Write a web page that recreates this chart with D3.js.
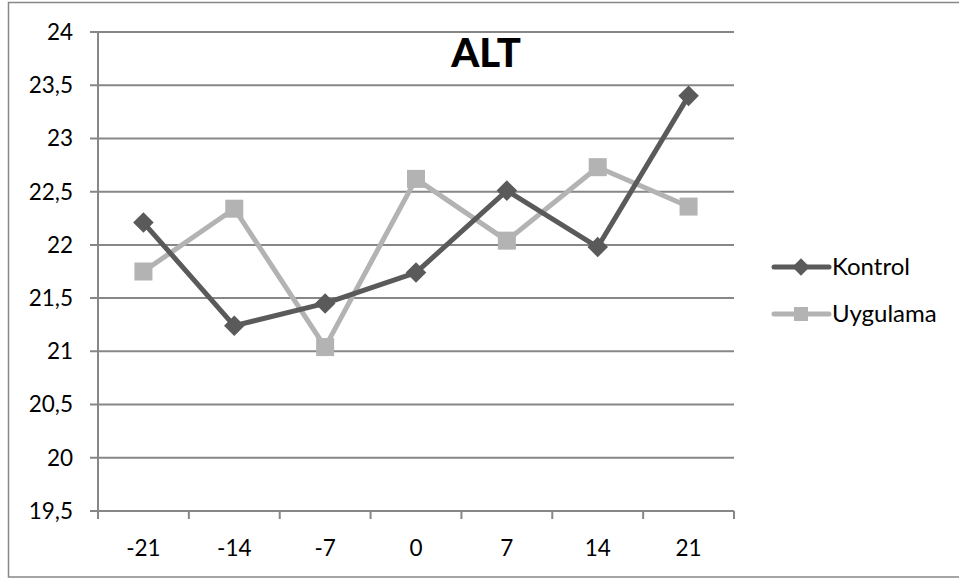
<!DOCTYPE html>
<html><head><meta charset="utf-8">
<script src="https://cdn.jsdelivr.net/npm/d3@7"></script>
<style>body{margin:0;background:#fff;} svg{display:block;}</style>
</head><body>
<svg id="c" width="959" height="579"></svg>
<script>
const categories = ["-21","-14","-7","0","7","14","21"];
const kontrol = [22.21, 21.24, 21.45, 21.74, 22.51, 21.98, 23.40];
const uygulama = [21.75, 22.34, 21.04, 22.62, 22.04, 22.73, 22.36];
const yTicks = [19.5, 20, 20.5, 21, 21.5, 22, 22.5, 23, 23.5, 24];
const seriesNames = ["Kontrol", "Uygulama"];
const title = "ALT";

const font = "Lato, Carlito, Calibri, sans-serif";
const svg = d3.select("#c");
const L = 98, R = 734, T = 32, B = 511;
const x = d3.scaleBand().domain(categories).range([L, R]);
const y = d3.scaleLinear().domain([19.5, 24]).range([B, T]);
const grid = "#878787";

// outer border
svg.append("rect").attr("x", 8.5).attr("y", 2.5).attr("width", 1000).attr("height", 574.5)
  .attr("fill", "none").attr("stroke", grid).attr("stroke-width", 1.5);

// gridlines
svg.append("g").selectAll("line").data(yTicks).join("line")
  .attr("x1", L - 8).attr("x2", R).attr("y1", d => y(d)).attr("y2", d => y(d))
  .attr("stroke", grid).attr("stroke-width", 2);

// y axis line
svg.append("line").attr("x1", L).attr("x2", L).attr("y1", T).attr("y2", B)
  .attr("stroke", grid).attr("stroke-width", 2);

// x tick marks
const xEdges = categories.map(c => x(c)).concat([R]);
svg.append("g").selectAll("line").data(xEdges).join("line")
  .attr("x1", d => d).attr("x2", d => d).attr("y1", B).attr("y2", B + 8)
  .attr("stroke", grid).attr("stroke-width", 2);

// y labels
svg.append("g").selectAll("text").data(yTicks).join("text")
  .attr("x", 73).attr("y", d => y(d)).attr("dy", "0.35em")
  .attr("text-anchor", "end").attr("font-family", font).attr("font-size", 22.5)
  .attr("fill", "#000").text(d => String(d).replace(".", ","));

// x labels
svg.append("g").selectAll("text").data(categories).join("text")
  .attr("x", d => x(d) + x.bandwidth() / 2).attr("y", 548).attr("dy", "0.35em")
  .attr("text-anchor", "middle").attr("font-family", font).attr("font-size", 22.5)
  .attr("fill", "#000").text(d => d);

// title
svg.append("text").attr("x", 486).attr("y", 67).attr("text-anchor", "middle")
  .attr("font-family", font).attr("font-weight", "900").attr("font-size", 40)
  .attr("fill", "#000").text(title);

const cx = d => x(d) + x.bandwidth() / 2;
const line = d3.line().x((v, i) => cx(categories[i])).y(v => y(v));
const dark = "#5a5a5a", light = "#b3b3b3";

// Uygulama
svg.append("path").datum(uygulama).attr("d", line).attr("fill", "none")
  .attr("stroke", light).attr("stroke-width", 5).attr("stroke-linejoin", "round");
svg.append("g").selectAll("rect").data(uygulama).join("rect")
  .attr("x", (v, i) => cx(categories[i]) - 9).attr("y", v => y(v) - 9)
  .attr("width", 18).attr("height", 18).attr("fill", light);

// Kontrol
svg.append("path").datum(kontrol).attr("d", line).attr("fill", "none")
  .attr("stroke", dark).attr("stroke-width", 5).attr("stroke-linejoin", "round");
const diamond = d3.symbol().type(d3.symbolDiamond2).size(270);
svg.append("g").selectAll("path").data(kontrol).join("path")
  .attr("d", diamond)
  .attr("transform", (v, i) => `translate(${cx(categories[i])},${y(v)})`)
  .attr("fill", dark);

// legend
const leg = svg.append("g");
const legY = [267, 314];
const legCols = [dark, light];
const legDiamond = d3.symbol().type(d3.symbolDiamond2).size(190);
seriesNames.forEach((n, i) => {
  leg.append("line").attr("x1", 774).attr("x2", 829).attr("y1", legY[i]).attr("y2", legY[i])
    .attr("stroke", legCols[i]).attr("stroke-width", 5).attr("stroke-linecap", "round");
  if (i === 0) {
    leg.append("path").attr("d", legDiamond).attr("transform", `translate(801,${legY[i]})`).attr("fill", dark);
  } else {
    leg.append("rect").attr("x", 794).attr("y", legY[i] - 7).attr("width", 14).attr("height", 14).attr("fill", light);
  }
  leg.append("text").attr("x", 832).attr("y", legY[i]).attr("dy", "0.35em")
    .attr("font-family", font).attr("font-size", 24).attr("fill", "#000").text(n);
});
</script>
</body></html>
